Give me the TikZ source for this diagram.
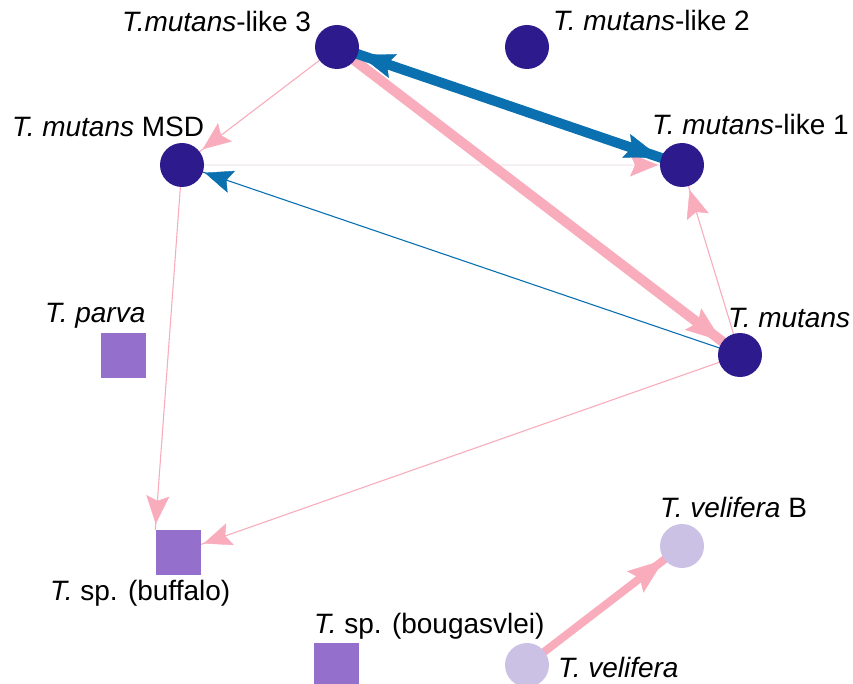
\documentclass[tikz,border=0pt]{standalone}
\usepackage{fontspec}
\setmainfont{Liberation Sans}
\usetikzlibrary{arrows.meta,decorations.markings,backgrounds}

\definecolor{darkdot}{RGB}{45,27,142}
\definecolor{lightdot}{RGB}{202,193,228}
\definecolor{squarec}{RGB}{148,112,204}
\definecolor{bluec}{RGB}{10,112,176}
\definecolor{pinkc}{RGB}{248,172,188}
\definecolor{faintc}{RGB}{245,240,241}

\begin{document}
\begin{tikzpicture}[x=1pt,y=-1pt,
  dot/.style={circle,fill=darkdot,minimum size=44pt,inner sep=0pt},
  ltdot/.style={circle,fill=lightdot,minimum size=44pt,inner sep=0pt},
  sqnode/.style={rectangle,fill=squarec,minimum size=45pt,inner sep=0pt},
  lbl/.style={inner sep=0pt,anchor=base west,font=\fontsize{28}{32}\selectfont},
  thinedge/.style={line width=1.1pt},
  thickedge/.style={line width=10pt},
  pinkhead/.style={postaction={decorate,decoration={markings,
     mark=at position #1 with {\pgfsetlinewidth{0.4pt}\arrow[pinkc]{Stealth[length=28pt,width=23pt,inset=5pt]}}}}},
  bluehead/.style={postaction={decorate,decoration={markings,
     mark=at position #1 with {\pgfsetlinewidth{0.4pt}\arrow[bluec]{Stealth[length=28pt,width=23pt,inset=5pt]}}}}},
  bigpinkhead/.style={postaction={decorate,decoration={markings,
     mark=at position #1 with {\pgfsetlinewidth{0.4pt}\arrow[pinkc]{Stealth[length=36pt,width=27pt,inset=6pt]}}}}},
  bigbluehead/.style={postaction={decorate,decoration={markings,
     mark=at position #1 with {\pgfsetlinewidth{0.4pt}\arrow[bluec]{Stealth[length=36pt,width=25pt,inset=6pt]}}}}},
  bigblueback/.style={postaction={decorate,decoration={markings,
     mark=at position #1 with {\pgfsetlinewidth{0.4pt}\arrowreversed[bluec]{Stealth[length=36pt,width=25pt,inset=6pt]}}}}},
]
\useasboundingbox (0,0) rectangle (853,684);

% nodes
\node[dot] (ml3) at (337,47) {};
\node[dot] (ml2) at (527,47) {};
\node[dot] (msd) at (182,165) {};
\node[dot] (ml1) at (682,165) {};
\node[dot] (tm)  at (740,355) {};
\node[sqnode] (parva) at (123.5,355.5) {};
\node[sqnode] (buf) at (178,552.5) {};
\node[sqnode] (boug) at (336.5,665.5) {};
\node[ltdot] (velb) at (682,546) {};
\node[ltdot] (vel)  at (527,665) {};

% labels
\node[lbl] (lml3) at (122,32) {\textit{T.mutans}-like 3};
\node[lbl] (lml2) at (553,31) {\textit{T. mutans}-like 2};
\node[lbl] (lmsd) at (12,137) {\textit{T. mutans} MSD};
\node[lbl] (lml1) at (652,135) {\textit{T. mutans}-like 1};
\node[lbl] (ltm)  at (728,327) {\textit{T. mutans}};
\node[lbl] (lpar) at (45,323) {\textit{T. parva}};
\node[lbl] (lbuf) at (50,600) {\textit{T.} sp. (buffalo)};
\node[lbl] (lbou) at (314,633) {\textit{T.} sp. (bougasvlei)};
\node[lbl] (lvb)  at (660,517) {\textit{T. velifera} B};
\node[lbl] (lvel) at (558,677) {\textit{T. velifera}};

% connectors
\begin{scope}[on background layer]
  \draw[thinedge,faintc,pinkhead=-24pt] (msd.center) -- (ml1.center);
  \draw[thinedge,pinkc,pinkhead=-26pt] (ml3.center) -- (msd.center);
  \draw[thinedge,bluec,bluehead=-24pt] (tm.center) -- (msd.center);
  \draw[thinedge,pinkc,pinkhead=-26pt] (tm.center) -- (ml1.center);
  \draw[thinedge,pinkc,pinkhead=-6pt] (msd.center) -- (buf.north west);
  \draw[thinedge,pinkc,pinkhead=-27pt] (tm.center) -- (buf.center);
  \draw[thickedge,pinkc,bigpinkhead=-23pt] (ml3.center) -- (tm.center);
  \draw[thickedge,bluec,bigblueback=23pt,bigbluehead=-23pt] (ml3.center) -- (ml1.center);
  \draw[line width=8pt,pinkc,bigpinkhead=-23pt] (vel.center) -- (velb.center);
\end{scope}
\end{tikzpicture}
\end{document}
